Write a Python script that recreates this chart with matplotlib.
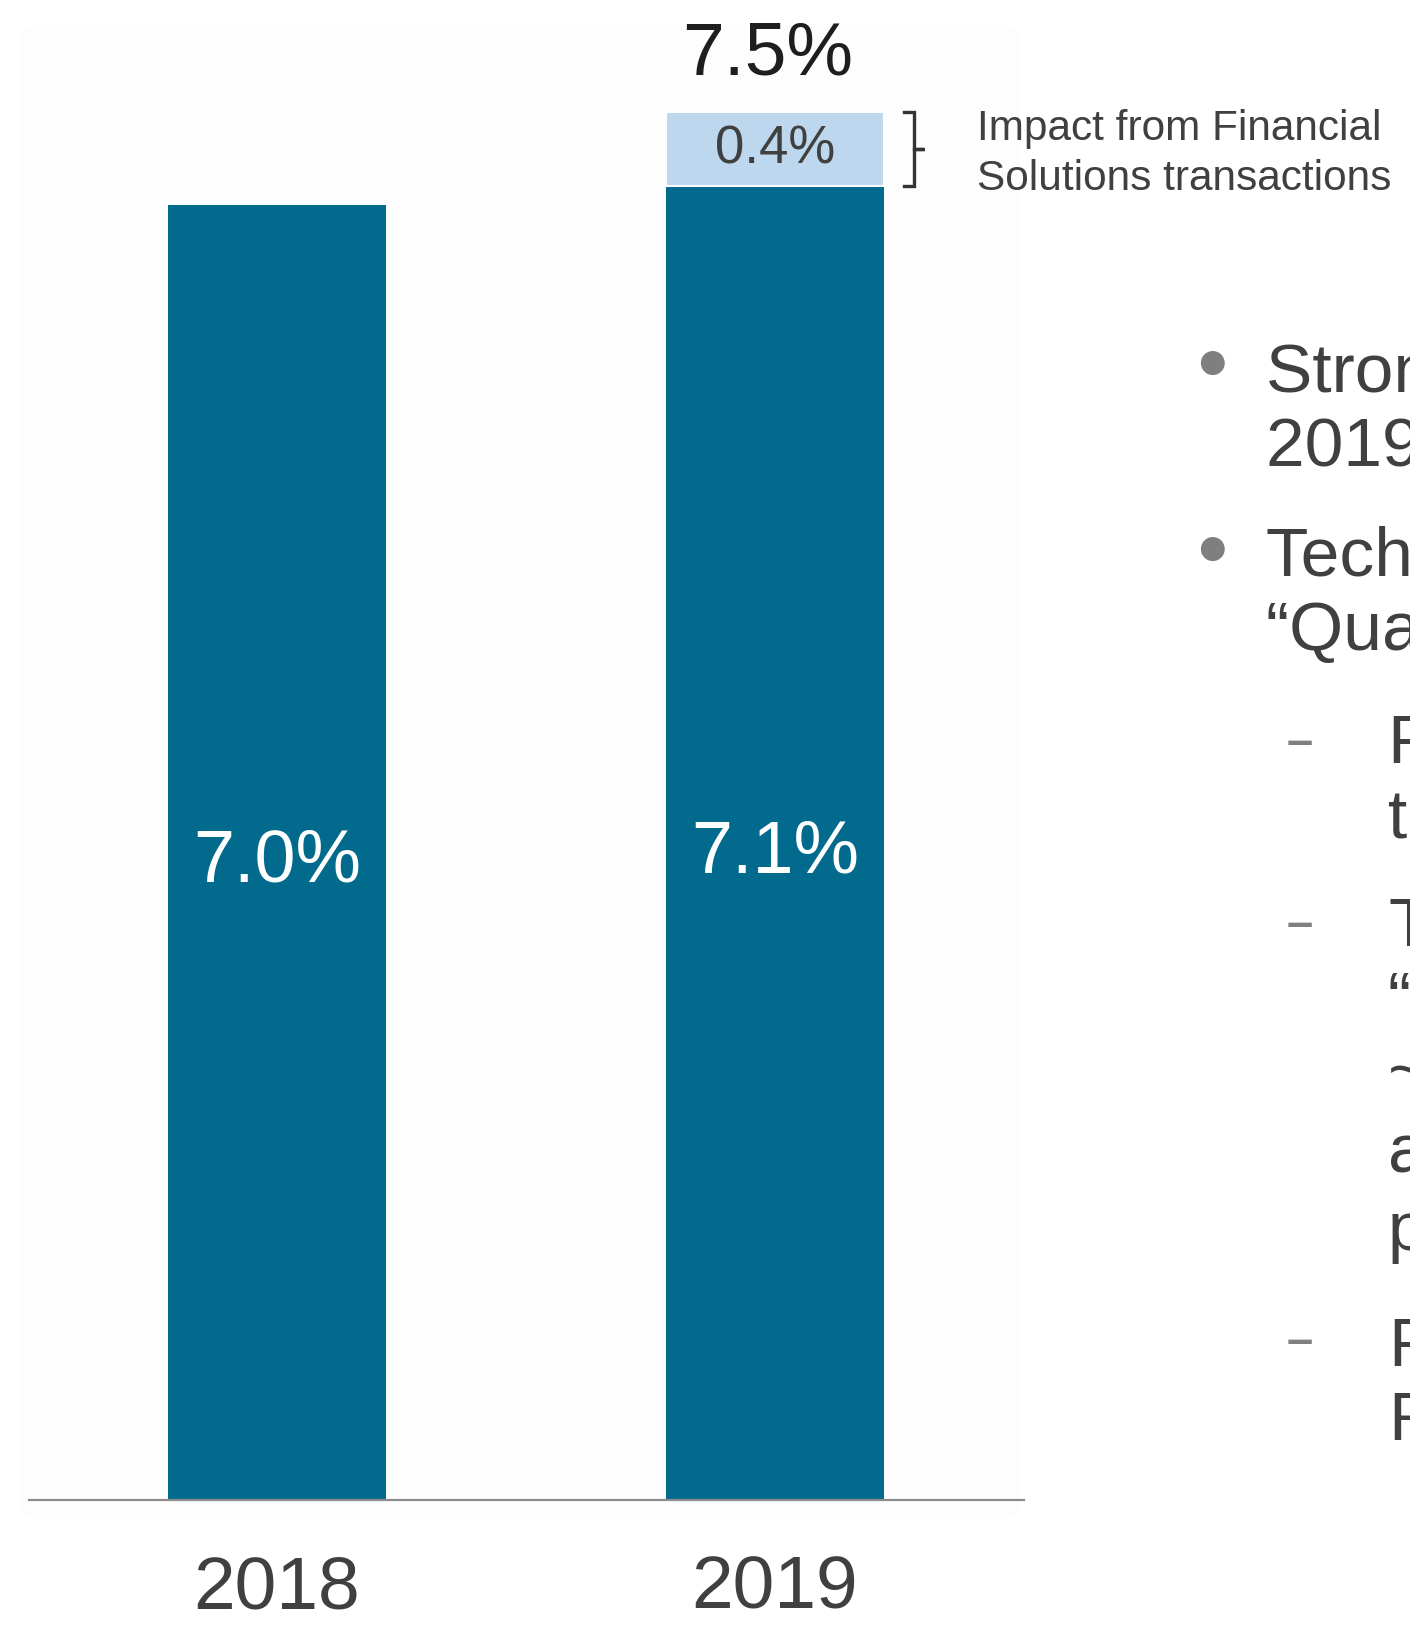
import matplotlib.pyplot as plt
from matplotlib.patches import FancyBboxPatch

# margin figures (%)
years = ['2018', '2019']
base_margin = [7.0, 7.1]
fs_impact = [0.0, 0.4]
total_2019 = 7.5

dark_blue = '#016a8d'
light_blue = '#bdd7ee'
text_grey = '#404040'

plt.rcParams['font.family'] = ['Liberation Sans', 'DejaVu Sans']

W, H = 1410, 1625
fig = plt.figure(figsize=(W / 100, H / 100), dpi=100)

# faint panel behind the chart
panel = FancyBboxPatch((21 / W, 1 - 1518 / H), 999 / W, 1492 / H,
                       boxstyle='round,pad=0,rounding_size=0.01',
                       transform=fig.transFigure, fc='#fdfdfd', ec='none', zorder=-10)
fig.patches.append(panel)

ax = fig.add_axes([29 / W, 125 / H, 995 / W, 1500 / H])
ax.set_facecolor('none')
x = range(len(years))
width = 0.438

ax.bar(x, base_margin, width=width, color=dark_blue, zorder=2)
ax.bar(x[1], fs_impact[1], bottom=base_margin[1], width=width, color=light_blue,
       edgecolor='white', linewidth=1.5, zorder=2)

ax.set_xlim(-0.498, 1.5)
ax.set_ylim(0, 8.108)

# labels inside the bars
for i, v in enumerate(base_margin):
    ax.annotate(f'{v:.1f}%', (i, v / 2), xytext=(0, -21), textcoords='offset points',
                ha='center', va='baseline', color='white', fontsize=53)
ax.text(1, base_margin[1] + fs_impact[1] / 2, f'{fs_impact[1]:.1f}%', ha='center',
        va='center', color=text_grey, fontsize=38)
ax.annotate(f'{total_2019:.1f}%', (1, total_2019), xytext=(-5, 27), textcoords='offset points',
            ha='center', va='baseline', color='#1e1e1e', fontsize=54)

# bracket next to the Financial Solutions segment
bx0 = 1 + width / 2 + 0.04
bx1 = bx0 + 0.02
bx2 = bx0 + 0.04
y0, y1 = base_margin[1], total_2019
ym = (y0 + y1) / 2
ax.plot([bx0, bx1, bx1, bx2, bx1, bx1, bx0], [y1, y1, ym, ym, ym, y0, y0],
        color='#333333', lw=2.4, solid_joinstyle='miter', clip_on=False, zorder=3)
ax.text(1.405, y1 + 0.02, 'Impact from Financial\nSolutions transactions',
        ha='left', va='top', color=text_grey, fontsize=30.5, linespacing=1.32)

for s in ['top', 'left', 'right']:
    ax.spines[s].set_visible(False)
ax.spines['bottom'].set_color('#8c8c8c')
ax.spines['bottom'].set_linewidth(1.6)
ax.set_yticks([])
ax.set_xticks(list(x), years)
ax.tick_params(axis='x', length=0, pad=39, labelsize=54, labelcolor=text_grey)

# commentary on the right, running off the page
bullets = [
    (365, 392, ['Strong growth in', '2019 margin']),
    (551, 576, ['Technical result', '\u201cQuality of earnings\u201d']),
]
for dot_y, first_base, lines in bullets:
    fig.text(1212 / W, 1 - dot_y / H, '\u25cf', ha='center', va='center', color='#7f7f7f', fontsize=40)
    for k, line in enumerate(lines):
        fig.text(1266 / W, 1 - (first_base + 74 * k) / H, line, ha='left', va='baseline',
                 color=text_grey, fontsize=50)

sub_bullets = [
    (743, 763, ['Financial Solutions', 'transactions']),
    (925, 946, ['The', '\u201cSolid\u201d', '~0.1', 'and', 'premium']),
    (1342, 1365, ['Further', 'Reserves']),
]
line_gaps = [0, 74, 74, 78, 78]
for dash_y, first_base, lines in sub_bullets:
    fig.text(1300 / W, 1 - dash_y / H, '\u2013', ha='center', va='center', color='#7f7f7f',
             fontsize=34, fontweight='bold')
    yb = first_base
    for k, line in enumerate(lines):
        yb = yb + (line_gaps[k] if k else 0)
        fig.text(1388 / W, 1 - yb / H, line, ha='left', va='baseline', color=text_grey, fontsize=50)

fig.savefig('out.png', dpi=100)
